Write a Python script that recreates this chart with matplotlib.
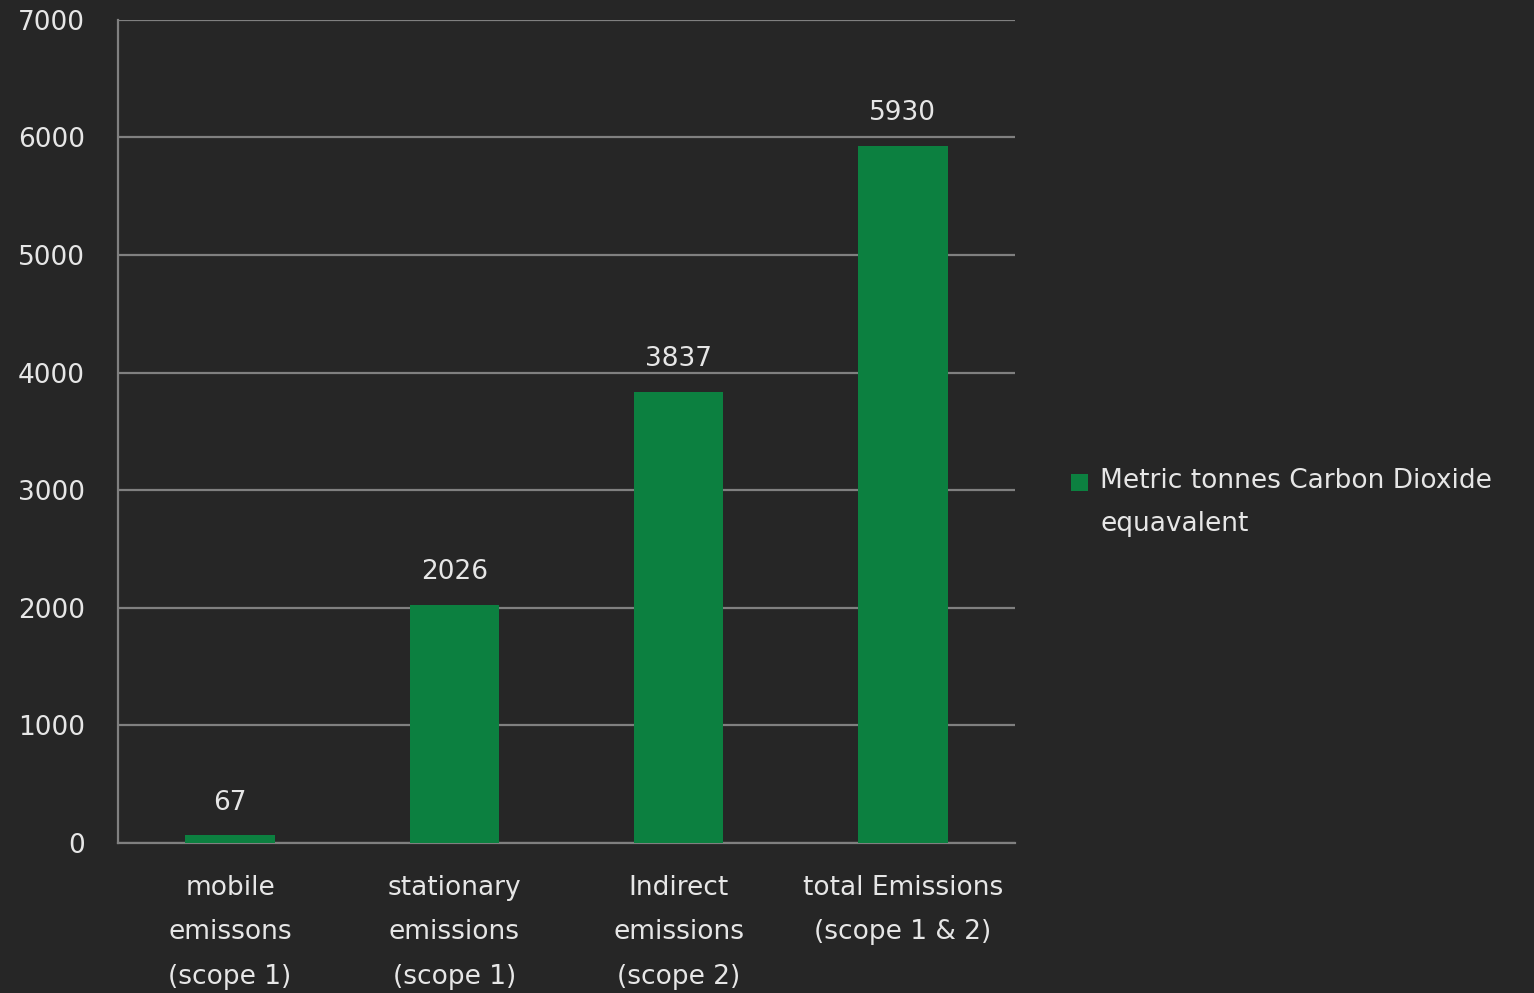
import matplotlib.pyplot as plt
import numpy as np

# chart data
categories = ["mobile\nemissons\n(scope 1)", "stationary\nemissions\n(scope 1)",
              "Indirect\nemissions\n(scope 2)", "total Emissions\n(scope 1 & 2)"]
values = [67, 2026, 3837, 5930]
series_name = "Metric tonnes Carbon Dioxide\nequavalent"

bg = "#262626"
bar_color = "#0c8040"
text_color = "#e6e6e6"
grid_color = "#808080"

fig = plt.figure(figsize=(15.34, 9.93), dpi=100, facecolor=bg)
ax = fig.add_axes([0.0769, 0.151, 0.5848, 0.829])
ax.set_facecolor(bg)

x = np.arange(len(categories))
bars = ax.bar(x, values, width=0.4, color=bar_color, label=series_name, zorder=3)
ax.bar_label(bars, labels=[str(v) for v in values], padding=14,
             color=text_color, fontsize=19)

ax.set_xlim(-0.5, 3.5)
ax.set_ylim(0, 7000)
ax.set_yticks(range(0, 7001, 1000))
ax.set_xticks(x)
ax.set_xticklabels(categories, linespacing=1.92)
ax.tick_params(axis="both", length=0, colors=text_color, labelsize=19)
ax.tick_params(axis="y", pad=24)
ax.tick_params(axis="x", pad=23)

ax.grid(axis="y", color=grid_color, linewidth=1.6, zorder=0)
for s in ["top", "right"]:
    ax.spines[s].set_visible(False)
for s in ["left", "bottom"]:
    ax.spines[s].set_color(grid_color)
    ax.spines[s].set_linewidth(1.6)

leg = fig.legend(loc="center left", bbox_to_anchor=(0.6915, 0.494), frameon=False,
                 fontsize=19, labelcolor=text_color, handlelength=0.65, handleheight=0.65,
                 handletextpad=0.45, borderaxespad=0)
for t in leg.get_texts():
    t.set_linespacing(1.81)
# the legend square sits beside the first line of the label
h = leg.legend_handles[0]
h.set_y(h.get_y() + 15)

fig.savefig("out.png", dpi=100, facecolor=bg)
